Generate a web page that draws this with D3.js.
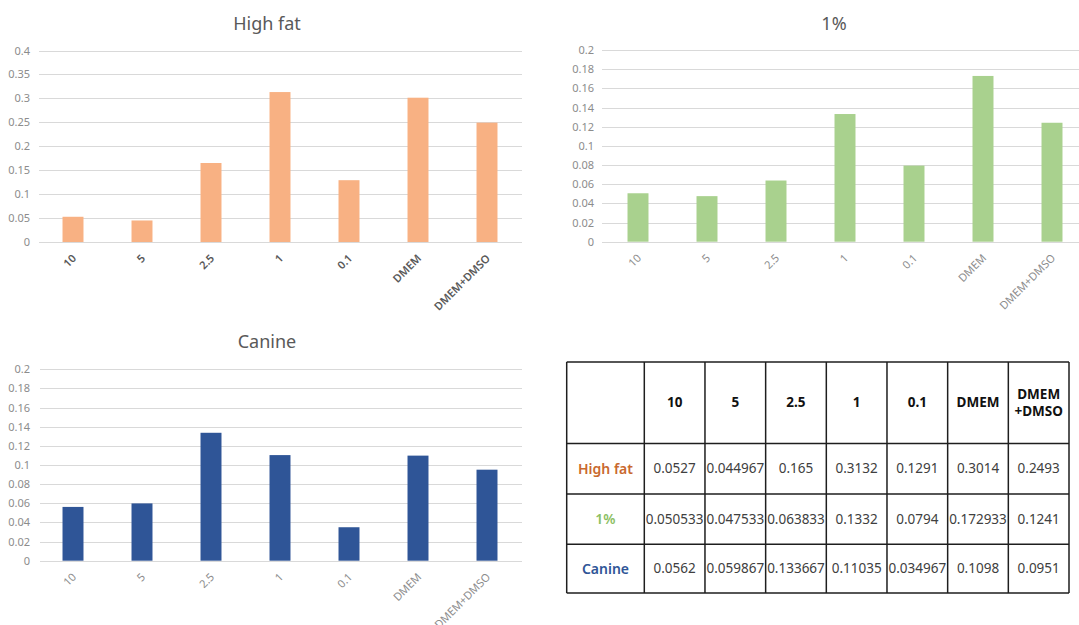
<!DOCTYPE html>
<html>
<head>
<meta charset="utf-8">
<script src="https://cdn.jsdelivr.net/npm/d3@7"></script>
<style>
  html, body { margin: 0; padding: 0; background: #fff; }
  svg { display: block; font-family: "Noto Sans", "Open Sans", sans-serif; }
</style>
</head>
<body>
<svg id="root" width="1079" height="625"></svg>
<script>
// Treatment groups (x categories)
const categories = ["10", "5", "2.5", "1", "0.1", "DMEM", "DMEM+DMSO"];

// Measured values per medium
const highFatValues = [0.0527, 0.044967, 0.165, 0.3132, 0.1291, 0.3014, 0.2493];
const onePercentValues = [0.050533, 0.047533, 0.063833, 0.1332, 0.0794, 0.172933, 0.1241];
const canineValues = [0.0562, 0.059867, 0.133667, 0.11035, 0.034967, 0.1098, 0.0951];

// Table text as printed in the summary table
const highFatText = ["0.0527", "0.044967", "0.165", "0.3132", "0.1291", "0.3014", "0.2493"];
const onePercentText = ["0.050533", "0.047533", "0.063833", "0.1332", "0.0794", "0.172933", "0.1241"];
const canineText = ["0.0562", "0.059867", "0.133667", "0.11035", "0.034967", "0.1098", "0.0951"];

// Y-axis ticks
const highFatTicks = [0, 0.05, 0.1, 0.15, 0.2, 0.25, 0.3, 0.35, 0.4];
const highFatTickLabels = ["0", "0.05", "0.1", "0.15", "0.2", "0.25", "0.3", "0.35", "0.4"];
const smallTicks = [0, 0.02, 0.04, 0.06, 0.08, 0.1, 0.12, 0.14, 0.16, 0.18, 0.2];
const smallTickLabels = ["0", "0.02", "0.04", "0.06", "0.08", "0.1", "0.12", "0.14", "0.16", "0.18", "0.2"];

const svg = d3.select("#root");

function barChart(opt) {
  const g = svg.append("g");
  const x = d3.scaleBand()
    .domain(categories)
    .range([opt.x0, opt.x1])
    .paddingInner(0.696)
    .paddingOuter(0.348);
  const y = d3.scaleLinear()
    .domain([0, opt.max])
    .range([opt.yBottom, opt.yTop]);

  // horizontal gridlines
  g.append("g").selectAll("line")
    .data(opt.ticks)
    .join("line")
    .attr("x1", opt.gridX0)
    .attr("x2", opt.gridX1)
    .attr("y1", d => Math.round(y(d)) + 0.5)
    .attr("y2", d => Math.round(y(d)) + 0.5)
    .attr("stroke", "#d9d9d9")
    .attr("stroke-width", 1);

  // y tick labels
  const yAxis = d3.axisLeft(y)
    .tickValues(opt.ticks)
    .tickSize(0)
    .tickPadding(0)
    .tickFormat((d, i) => opt.tickLabels[i]);
  const ya = g.append("g")
    .attr("transform", `translate(${opt.labelRight},0)`)
    .call(yAxis);
  ya.select(".domain").remove();
  ya.selectAll("text")
    .attr("fill", "#8c8c8c")
    .style("font-size", "11px")
    .style("font-family", "\"Noto Sans\", sans-serif");

  // bars
  g.append("g").selectAll("rect")
    .data(opt.values)
    .join("rect")
    .attr("x", (d, i) => x(categories[i]))
    .attr("width", x.bandwidth())
    .attr("y", d => y(d))
    .attr("height", d => y(0) - y(d))
    .attr("fill", opt.color);

  // rotated category labels
  g.append("g").selectAll("text")
    .data(categories)
    .join("text")
    .attr("transform", d => `translate(${x(d) + x.bandwidth() / 2 + 4},${opt.yBottom + 17}) rotate(-45)`)
    .attr("text-anchor", "end")
    .attr("fill", opt.xLabelColor)
    .style("font-size", "11px")
    .style("font-weight", opt.xLabelWeight)
    .text(d => d);

  // title
  g.append("text")
    .attr("x", opt.titleX)
    .attr("y", opt.titleY)
    .attr("text-anchor", "middle")
    .attr("fill", "#595959")
    .style("font-size", "18px")
    .text(opt.title);
}

barChart({
  title: "High fat", values: highFatValues, color: "#f8b183",
  max: 0.4, ticks: highFatTicks, tickLabels: highFatTickLabels,
  x0: 38.5, x1: 521.5, yTop: 50.5, yBottom: 242,
  gridX0: 39, gridX1: 522, labelRight: 30,
  titleX: 267, titleY: 30, xLabelColor: "#595959", xLabelWeight: 600
});

barChart({
  title: "1%", values: onePercentValues, color: "#a9d18e",
  max: 0.2, ticks: smallTicks, tickLabels: smallTickLabels,
  x0: 603.5, x1: 1086.5, yTop: 50, yBottom: 241.7,
  gridX0: 602, gridX1: 1079, labelRight: 594,
  titleX: 834, titleY: 30, xLabelColor: "#8c8c8c", xLabelWeight: 400
});

barChart({
  title: "Canine", values: canineValues, color: "#2f5597",
  max: 0.2, ticks: smallTicks, tickLabels: smallTickLabels,
  x0: 38.5, x1: 521.5, yTop: 369.3, yBottom: 560.7,
  gridX0: 40, gridX1: 522, labelRight: 30,
  titleX: 267, titleY: 348, xLabelColor: "#8c8c8c", xLabelWeight: 400
});

// ---- Summary table ----
const rows = [
  { name: "High fat", color: "#c9692e", text: highFatText },
  { name: "1%", color: "#8cc063", text: onePercentText },
  { name: "Canine", color: "#2f5597", text: canineText }
];

const tableLeft = 566.7, firstColRight = 644.3, tableRight = 1069;
const rowEdges = [362, 443.5, 494, 544.3, 593];

const colX = d3.scaleBand()
  .domain(categories)
  .range([firstColRight, tableRight]);

const tg = svg.append("g");
const lineColor = "#1e1e1e";

// horizontal rules
tg.append("g").selectAll("line")
  .data(rowEdges)
  .join("line")
  .attr("x1", tableLeft).attr("x2", tableRight)
  .attr("y1", d => d).attr("y2", d => d)
  .attr("stroke", lineColor).attr("stroke-width", 1.5);

// vertical rules
const colEdges = [tableLeft].concat(categories.map(c => colX(c)), [tableRight]);
tg.append("g").selectAll("line")
  .data(colEdges)
  .join("line")
  .attr("x1", d => d).attr("x2", d => d)
  .attr("y1", rowEdges[0]).attr("y2", rowEdges[rowEdges.length - 1])
  .attr("stroke", lineColor).attr("stroke-width", 1.5);

// header cells
const headerMid = (rowEdges[0] + rowEdges[1]) / 2;
categories.forEach(c => {
  const cx = colX(c) + colX.bandwidth() / 2;
  const parts = c === "DMEM+DMSO" ? ["DMEM", "+DMSO"] : [c];
  const t = tg.append("text")
    .attr("text-anchor", "middle")
    .attr("fill", "#111")
    .style("font-size", "13.5px")
    .style("font-weight", 700);
  parts.forEach((p, i) => {
    t.append("tspan")
      .attr("x", cx)
      .attr("y", headerMid + (i - (parts.length - 1) / 2) * 17)
      .attr("dy", "0.35em")
      .text(p);
  });
});

// body rows
rows.forEach((r, ri) => {
  const cy = (rowEdges[ri + 1] + rowEdges[ri + 2]) / 2;
  tg.append("text")
    .attr("x", (tableLeft + firstColRight) / 2)
    .attr("y", cy)
    .attr("dy", "0.35em")
    .attr("text-anchor", "middle")
    .attr("fill", r.color)
    .style("font-size", "14px")
    .style("font-weight", 600)
    .text(r.name);
  tg.append("g").selectAll("text")
    .data(r.text)
    .join("text")
    .attr("x", (d, i) => colX(categories[i]) + colX.bandwidth() / 2)
    .attr("y", cy)
    .attr("dy", "0.35em")
    .attr("text-anchor", "middle")
    .attr("fill", "#404040")
    .style("font-size", "13.5px")
    .text(d => d);
});
</script>
</body>
</html>
